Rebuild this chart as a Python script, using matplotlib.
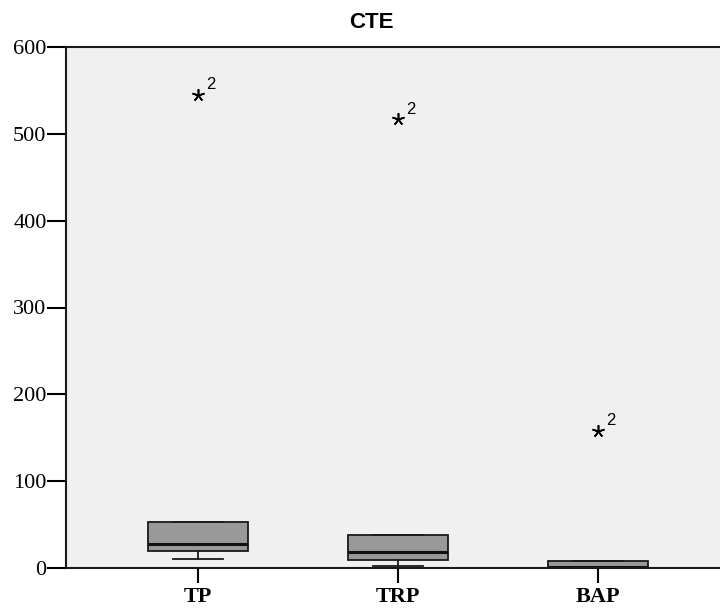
import matplotlib
matplotlib.use("Agg")
from matplotlib import pyplot as plt

# box summaries per group
groups = ["TP", "TRP", "BAP"]
q1 = [19.5, 9.0, 1.0]
med = [27.5, 18.5, 1.5]
q3 = [53.0, 38.0, 8.0]
whislo = [10.5, 2.0, 0.0]
whishi = [53.0, 38.0, 8.0]
outliers = [[545.0], [517.0], [158.0]]
outlier_ids = ["2", "2", "2"]

stats = []
for i, name in enumerate(groups):
    stats.append({"label": name, "q1": q1[i], "med": med[i], "q3": q3[i],
                  "whislo": whislo[i], "whishi": whishi[i], "fliers": []})

fig = plt.figure(figsize=(7.2, 6.12), dpi=100)
ax = fig.add_axes([66 / 720, 1 - 568 / 612, 660 / 720, (568 - 47) / 612])
ax.set_facecolor("#f0f0f0")

pos = [1, 2, 3]
ax.bxp(stats, positions=pos, widths=0.5, capwidths=0.25, patch_artist=True,
       showfliers=False,
       boxprops=dict(facecolor="#999999", edgecolor="#1a1a1a", linewidth=1.3),
       medianprops=dict(color="#111111", linewidth=2.2),
       whiskerprops=dict(color="#1a1a1a", linewidth=1.3),
       capprops=dict(color="#1a1a1a", linewidth=1.3))

# extreme values drawn as asterisks with their case number
for p, vals, cid in zip(pos, outliers, outlier_ids):
    for v in vals:
        ax.plot(p, v, marker=(5, 2, 0), color="black", markersize=9,
                markeredgewidth=1.2, linestyle="none")
        ax.annotate(cid, (p, v), xytext=(6, 4), textcoords="offset points",
                    fontsize=12, family="Liberation Sans")

ax.set_xlim(0.34, 3.64)
ax.set_ylim(0, 600)
ax.set_yticks([0, 100, 200, 300, 400, 500, 600])
ax.set_xticks(pos)
ax.set_xticklabels(groups, fontfamily="Liberation Serif", fontweight="bold", fontsize=16)
for lab in ax.get_yticklabels():
    lab.set_fontfamily("Liberation Serif")
    lab.set_fontsize(16)
ax.tick_params(axis="y", length=14, width=1.5, pad=0)
ax.tick_params(axis="x", length=11, width=1.5, pad=3)
for s in ax.spines.values():
    s.set_linewidth(1.5)
    s.set_color("#1a1a1a")
ax.spines["right"].set_visible(False)

fig.text(371 / 720, 1 - 22 / 612, "CTE", ha="center", va="center",
         fontsize=16, fontweight="bold", family="Liberation Sans")

fig.savefig("out.png", dpi=100)
